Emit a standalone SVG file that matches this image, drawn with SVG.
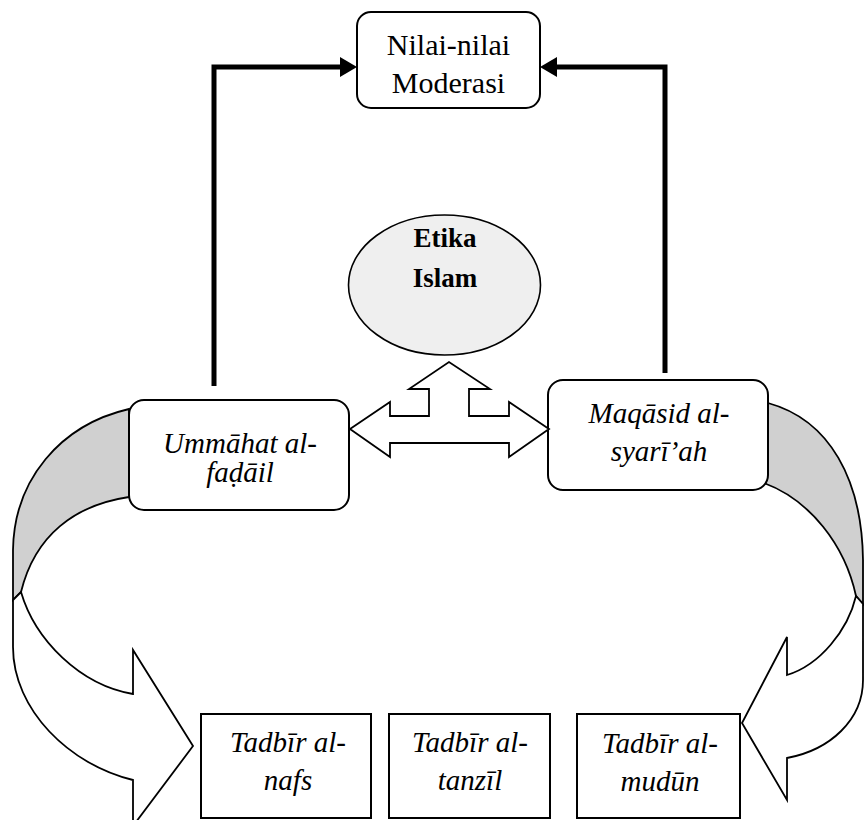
<svg xmlns="http://www.w3.org/2000/svg" width="866" height="820" viewBox="0 0 866 820" font-family="Liberation Serif">
<style>
.box{fill:#fff;stroke:#000;stroke-width:2}
text{font-size:29px;text-anchor:middle;fill:#000}
.it{font-style:italic}
.up{font-size:30px}
.b{font-weight:bold;font-size:27px}
.conn{fill:none;stroke:#000;stroke-width:5;stroke-linejoin:miter}
.head{fill:#000;stroke:none}
.band{fill:#d0d0d0;stroke:#000;stroke-width:1.8;stroke-linejoin:miter}
.front{fill:#fff;stroke:#000;stroke-width:1.8;stroke-linejoin:miter}
</style>
<rect width="866" height="820" fill="#fff"/>

<g id="curved-left">
<path class="band" d="M129,409 C60,425 14,480 13,550 L13,600 L21,592 C35,535 75,505 129,497 Z"/>
<path class="front" d="M13,600 L13,647 C13,710 70,765 133,780 L133,826 L193,746 L133,650 L133,694 C80,685 35,640 21,592 Z"/>
</g>
<g id="curved-right">
<path class="band" d="M768,403 C830,420 862,480 863,560 L863,604 L856,596 C845,545 810,500 764,483 Z"/>
<path class="front" d="M863,604 L863,680 C863,720 830,750 787,758 L787,800 L742,723 L787,637 L787,675 C820,665 848,630 856,596 Z"/>
</g>

<g id="moderasi">
<rect class="box" x="357" y="12" width="183" height="96" rx="14"/>
<text class="up" x="448.5" y="55">Nilai-nilai</text>
<text class="up" x="448.5" y="93">Moderasi</text>
</g>

<g id="etika">
<ellipse cx="444.5" cy="285" rx="96" ry="70" fill="#efefef" stroke="#000" stroke-width="1.6"/>
<text class="b" x="445" y="247">Etika</text>
<text class="b" x="445" y="287">Islam</text>
</g>

<g id="ummahat">
<rect class="box" x="129" y="400" width="220" height="110" rx="15"/>
<text class="it" x="240" y="453">Ummāhat al-</text>
<text class="it" x="240" y="482">faḍāil</text>
</g>

<g id="maqasid">
<rect class="box" x="548" y="380" width="220" height="110" rx="15"/>
<text class="it" x="659" y="423">Maqāsid al-</text>
<text class="it" x="659" y="461">syarī’ah</text>
</g>

<g id="nafs">
<rect class="box" x="201" y="714" width="170" height="104"/>
<text class="it" x="288" y="752">Tadbīr al-</text>
<text class="it" x="288" y="790">nafs</text>
</g>

<g id="tanzil">
<rect class="box" x="389" y="714" width="161" height="104"/>
<text class="it" x="470" y="752">Tadbīr al-</text>
<text class="it" x="470" y="790">tanzīl</text>
</g>

<g id="mudun">
<rect class="box" x="577" y="714" width="163" height="104"/>
<text class="it" x="660" y="753">Tadbīr al-</text>
<text class="it" x="660" y="791">mudūn</text>
</g>

<g id="connectors">
<path class="front" stroke-width="2" d="M350,429 L390,402 L390,416 L429,416 L429,389 L409,389 L449,362 L490,389 L469,389 L469,416 L509,416 L509,402 L549,429 L509,457 L509,443 L390,443 L390,457 Z"/>
<polyline class="conn" points="214,386 214,67 342,67"/>
<polygon class="head" points="340,57 357,67 340,77"/>
<polyline class="conn" points="665,373 665,67 555,67"/>
<polygon class="head" points="557,57 540,67 557,77"/>
</g>
</svg>
